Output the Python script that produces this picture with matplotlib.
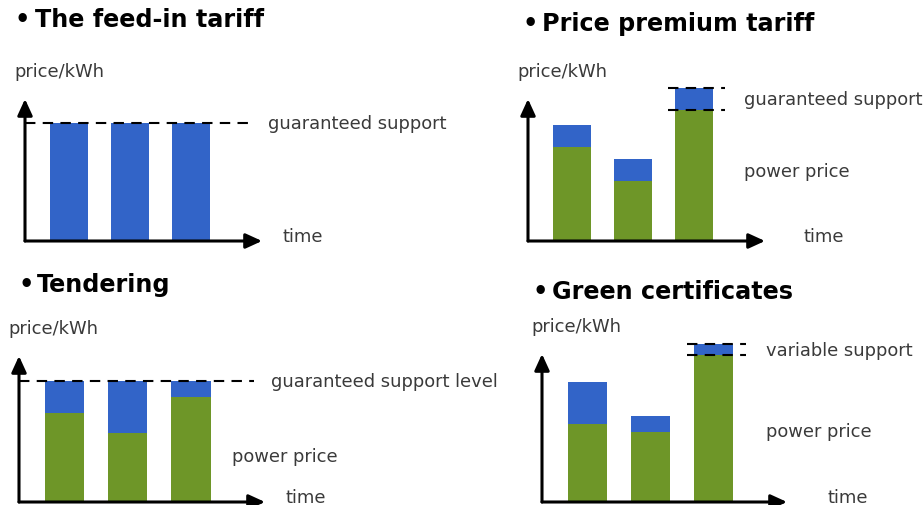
import matplotlib
matplotlib.use("Agg")
import matplotlib.pyplot as plt
from matplotlib.transforms import offset_copy, blended_transform_factory

# Support schemes for renewable power, price per kWh over three time periods
periods = [1, 2, 3]

feed_in_support = 8.3                 # fixed tariff level

premium_power = [6.6, 4.2, 9.2]       # market power price
premium_support = [1.6, 1.6, 1.6]     # fixed premium on top

tender_power = [6.1, 4.7, 7.2]        # market power price
tender_level = 8.3                    # guaranteed support level

green_power = [5.3, 4.7, 9.9]         # market power price
green_support = [2.8, 1.1, 0.8]       # certificate value

titles = ["The feed-in tariff", "Price premium tariff",
          "Tendering", "Green certificates"]

BLUE = "#3264C8"
GREEN = "#6E9628"
TEXT = "#3a3a3a"
LABEL_SIZE = 12.9
TITLE_SIZE = 17.2
BAR_W = 0.62

W, H = 924, 506
fig = plt.figure(figsize=(W / 100, H / 100), dpi=100)


def px_axes(left, right, bottom, top):
    return fig.add_axes([left / W, 1 - bottom / H, (right - left) / W, (bottom - top) / H])


def setup(ax, time_x):
    ax.set_xlim(0.28, 4.17)
    ax.set_ylim(0, 10)
    ax.axis("off")
    props = dict(arrowstyle="-|>,head_length=0.7,head_width=0.32", lw=2.2,
                 color="black", shrinkA=0, shrinkB=0, mutation_scale=14)
    ax.annotate("", xy=(1, 0), xytext=(0, 0), xycoords="axes fraction",
                arrowprops=props)
    ax.annotate("", xy=(0, 1), xytext=(0, 0), xycoords="axes fraction",
                arrowprops=props)
    ax.text(0, 1, "price/kWh", ha="left", va="center", fontsize=LABEL_SIZE,
            color=TEXT,
            transform=offset_copy(ax.transAxes, fig=fig, x=-11, y=28, units="dots"))
    ax.text(time_x, 0.035, "time", ha="left", va="center", fontsize=LABEL_SIZE,
            color=TEXT, transform=blended_transform_factory(ax.transData, ax.transAxes))


def bars(ax, heights, color, bottom=None):
    for patch in ax.bar(periods, heights, bottom=bottom, width=BAR_W, color=color):
        patch.set_clip_on(False)


def label(ax, x, y, s, axes_y=False):
    tr = blended_transform_factory(ax.transData, ax.transAxes) if axes_y else ax.transData
    ax.text(x, y, s, ha="left", va="center", fontsize=LABEL_SIZE, color=TEXT,
            transform=tr)


def dashed(ax, x0, x1, y):
    ax.plot([x0, x1], [y, y], color="black", lw=1.5, ls=(0, (5, 3.5)),
            zorder=5, clip_on=False)


# Feed-in tariff
ax1 = px_axes(25, 262, 242, 100)
setup(ax1, 4.5)
bars(ax1, [feed_in_support] * len(periods), BLUE)
dashed(ax1, 0.28, 4.0, feed_in_support)
label(ax1, 4.27, feed_in_support, "guaranteed support")

# Price premium tariff
ax2 = px_axes(528, 765, 242, 100)
setup(ax2, 4.81)
bars(ax2, premium_power, GREEN)
bars(ax2, premium_support, BLUE, bottom=premium_power)
dashed(ax2, 2.58, 3.52, premium_power[2])
dashed(ax2, 2.58, 3.52, premium_power[2] + premium_support[2])
label(ax2, 3.82, premium_power[2] + premium_support[2] / 2, "guaranteed support")
label(ax2, 3.82, 0.49, "power price", axes_y=True)

# Tendering
ax3 = px_axes(19, 265, 503, 357)
setup(ax3, 4.49)
tender_gap = [tender_level - p for p in tender_power]
bars(ax3, tender_power, GREEN)
bars(ax3, tender_gap, BLUE, bottom=tender_power)
dashed(ax3, 0.28, 4.0, tender_level)
label(ax3, 4.26, tender_level, "guaranteed support level")
label(ax3, 3.65, 0.315, "power price", axes_y=True)

# Green certificates
ax4 = px_axes(542, 787, 503, 355)
setup(ax4, 4.82)
bars(ax4, green_power, GREEN)
bars(ax4, green_support, BLUE, bottom=green_power)
dashed(ax4, 2.58, 3.52, green_power[2])
dashed(ax4, 2.58, 3.52, green_power[2] + green_support[2])
label(ax4, 3.83, green_power[2] + green_support[2] / 2, "variable support")
label(ax4, 3.83, 0.48, "power price", axes_y=True)

# Panel headings: bullet, then heading text
heading_pos = [(15, 35, 20), (522, 542, 24), (18, 37, 285), (532, 552, 292)]
for (bx, tx, y), t in zip(heading_pos, titles):
    fig.text(bx / W, 1 - y / H, "\u2022", ha="left", va="center",
             fontsize=TITLE_SIZE, fontweight="bold", color="black")
    fig.text(tx / W, 1 - y / H, t, ha="left", va="center",
             fontsize=TITLE_SIZE, fontweight="bold", color="black")

fig.savefig("out.png", dpi=100)
